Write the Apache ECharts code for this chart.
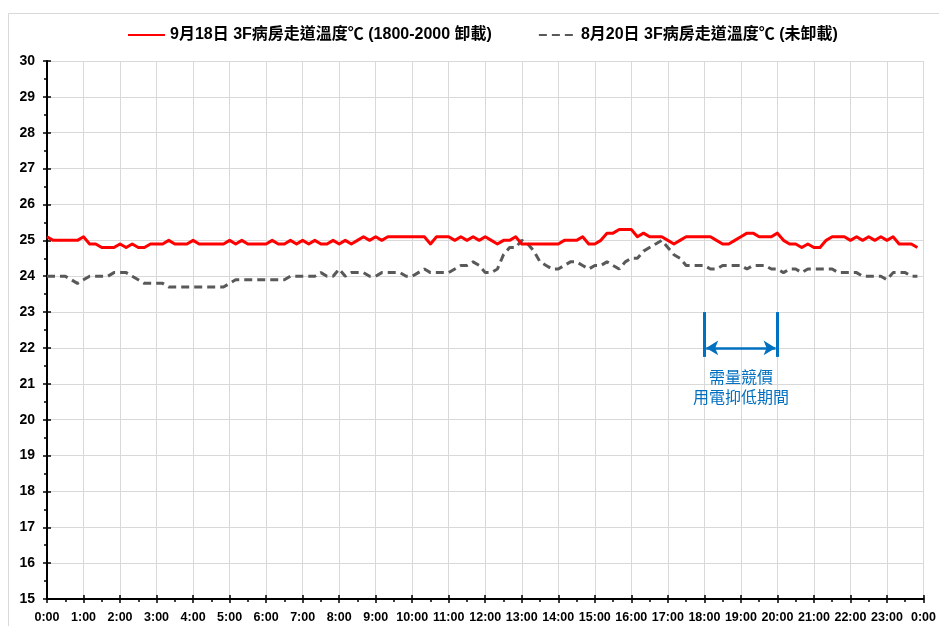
<!DOCTYPE html>
<html>
<head>
<meta charset="utf-8">
<script src="https://cdn.jsdelivr.net/npm/echarts@6/dist/echarts.min.js"></script>
<style>
html, body { margin: 0; padding: 0; background: #fff; }
#chart { width: 939px; height: 626px; }
</style>
</head>
<body>
<div id="chart"></div>
<script>
// Corridor temperature on the 3F ward, logged every 10 minutes from 0:00
const stepMinutes = 10;

// 9/18 — load shed between 18:00 and 20:00
const sep18Temps = [
  25.1, 25.0, 25.0, 25.0, 25.0, 25.0,
  25.1, 24.9, 24.9, 24.8, 24.8, 24.8,
  24.9, 24.8, 24.9, 24.8, 24.8, 24.9,
  24.9, 24.9, 25.0, 24.9, 24.9, 24.9,
  25.0, 24.9, 24.9, 24.9, 24.9, 24.9,
  25.0, 24.9, 25.0, 24.9, 24.9, 24.9,
  24.9, 25.0, 24.9, 24.9, 25.0, 24.9,
  25.0, 24.9, 25.0, 24.9, 24.9, 25.0,
  24.9, 25.0, 24.9, 25.0, 25.1, 25.0,
  25.1, 25.0, 25.1, 25.1, 25.1, 25.1,
  25.1, 25.1, 25.1, 24.9, 25.1, 25.1,
  25.1, 25.0, 25.1, 25.0, 25.1, 25.0,
  25.1, 25.0, 24.9, 25.0, 25.0, 25.1,
  24.9, 24.9, 24.9, 24.9, 24.9, 24.9,
  24.9, 25.0, 25.0, 25.0, 25.1, 24.9,
  24.9, 25.0, 25.2, 25.2, 25.3, 25.3,
  25.3, 25.1, 25.2, 25.1, 25.1, 25.1,
  25.0, 24.9, 25.0, 25.1, 25.1, 25.1,
  25.1, 25.1, 25.0, 24.9, 24.9, 25.0,
  25.1, 25.2, 25.2, 25.1, 25.1, 25.1,
  25.2, 25.0, 24.9, 24.9, 24.8, 24.9,
  24.8, 24.8, 25.0, 25.1, 25.1, 25.1,
  25.0, 25.1, 25.0, 25.1, 25.0, 25.1,
  25.0, 25.1, 24.9, 24.9, 24.9, 24.8
];

// 8/20 — normal operation, no load shed
const aug20Temps = [
  24.0, 24.0, 24.0, 24.0, 23.9, 23.8,
  23.9, 24.0, 24.0, 24.0, 24.0, 24.1,
  24.1, 24.1, 24.0, 23.9, 23.8, 23.8,
  23.8, 23.8, 23.7, 23.7, 23.7, 23.7,
  23.7, 23.7, 23.7, 23.7, 23.7, 23.7,
  23.8, 23.9, 23.9, 23.9, 23.9, 23.9,
  23.9, 23.9, 23.9, 23.9, 24.0, 24.0,
  24.0, 24.0, 24.0, 24.1, 24.0, 24.0,
  24.2, 24.0, 24.1, 24.1, 24.1, 24.0,
  24.0, 24.1, 24.1, 24.1, 24.1, 24.0,
  24.0, 24.1, 24.2, 24.1, 24.1, 24.1,
  24.1, 24.2, 24.3, 24.3, 24.4, 24.3,
  24.1, 24.1, 24.2, 24.6, 24.8, 24.8,
  25.0, 24.9, 24.7, 24.4, 24.3, 24.2,
  24.2, 24.3, 24.4, 24.4, 24.3, 24.2,
  24.3, 24.3, 24.4, 24.3, 24.2, 24.4,
  24.5, 24.5, 24.7, 24.8, 24.9, 25.0,
  24.8, 24.6, 24.5, 24.3, 24.3, 24.3,
  24.3, 24.2, 24.2, 24.3, 24.3, 24.3,
  24.3, 24.2, 24.3, 24.3, 24.3, 24.2,
  24.2, 24.1, 24.2, 24.2, 24.1, 24.2,
  24.2, 24.2, 24.2, 24.2, 24.1, 24.1,
  24.1, 24.1, 24.0, 24.0, 24.0, 24.0,
  23.9, 24.1, 24.1, 24.1, 24.0, 24.0
];

const seriesNames = [
  '9月18日 3F病房走道溫度℃ (1800-2000 卸載)',
  '8月20日 3F病房走道溫度℃ (未卸載)'
];

// Demand-bidding curtailment window (hours) and its caption
const curtailStart = 18;
const curtailEnd = 20;
const curtailNote = '需量競價\n用電抑低期間';

const yMin = 15, yMax = 30;
const xMin = 0, xMax = 24;

const toPoints = arr => arr.map((v, i) => [i * stepMinutes / 60, v]);

const latinFont = '"Liberation Sans", Arial, "Noto Sans CJK TC", sans-serif';
const blue = '#0070c0';

const chart = echarts.init(document.getElementById('chart'), null, { renderer: 'canvas' });

const baseX = {
  type: 'value', min: xMin, max: xMax, interval: 1,
  position: 'bottom'
};
const baseY = {
  type: 'value', min: yMin, max: yMax, interval: 1,
  position: 'left'
};

chart.setOption({
  backgroundColor: '#fff',
  animation: false,
  graphic: [{
    type: 'rect',
    shape: { x: 8.5, y: 13.5, width: 960, height: 700 },
    style: { fill: 'none', stroke: '#d9d9d9', lineWidth: 1 },
    silent: true, z: -1
  }],
  legend: {
    data: seriesNames,
    top: 22,
    left: 122,
    itemWidth: 37,
    itemHeight: 14,
    itemGap: 46,
    itemStyle: { opacity: 0 },
    textStyle: {
      fontFamily: latinFont,
      fontWeight: 'bold',
      fontSize: 16,
      color: '#000'
    }
  },
  grid: { left: 47, right: 14, top: 61, bottom: 27 },
  xAxis: [
    Object.assign({}, baseX, {
      axisLine: { show: true, lineStyle: { color: '#000', width: 2 } },
      axisTick: { show: true, inside: false, length: 4, lineStyle: { color: '#000', width: 1.5 } },
      minorTick: { show: true, splitNumber: 2, length: 3, lineStyle: { color: '#000', width: 1.5 } },
      splitLine: { show: true, lineStyle: { color: '#d9d9d9', width: 1 } },
      axisLabel: {
        margin: 12,
        fontFamily: latinFont, fontWeight: 'bold', fontSize: 12.5, color: '#000',
        formatter: v => (v % 24) + ':00'
      }
    }),
    Object.assign({}, baseX, {
      axisLine: { show: false },
      axisTick: { show: true, inside: true, length: 4, lineStyle: { color: '#000', width: 1.5 } },
      splitLine: { show: false },
      axisLabel: { show: false }
    })
  ],
  yAxis: [
    Object.assign({}, baseY, {
      axisLine: { show: true, lineStyle: { color: '#000', width: 2 } },
      axisTick: { show: true, inside: false, length: 4, lineStyle: { color: '#000', width: 1.5 } },
      minorTick: { show: true, splitNumber: 2, length: 3, lineStyle: { color: '#000', width: 1.5 } },
      splitLine: { show: true, lineStyle: { color: '#d9d9d9', width: 1 } },
      axisLabel: {
        margin: 12,
        fontFamily: latinFont, fontWeight: 'bold', fontSize: 14, color: '#000'
      }
    }),
    Object.assign({}, baseY, {
      offset: 0,
      axisLine: { show: false },
      axisTick: { show: true, inside: true, length: 4, lineStyle: { color: '#000', width: 1.5 } },
      splitLine: { show: false },
      axisLabel: { show: false }
    })
  ],
  series: [
    {
      name: seriesNames[0],
      type: 'line',
      data: toPoints(sep18Temps),
      showSymbol: false,
      symbol: 'none',
      color: '#ff0000',
      lineStyle: { color: '#ff0000', width: 3, join: 'round' },
      z: 4
    },
    {
      name: seriesNames[1],
      type: 'line',
      data: toPoints(aug20Temps),
      showSymbol: false,
      symbol: 'none',
      color: '#595959',
      lineStyle: { color: '#595959', width: 3, type: [8, 5] },
      z: 3
    },
    {
      name: 'curtailment',
      type: 'line',
      data: [],
      silent: true,
      markLine: {
        silent: true,
        symbol: ['none', 'none'],
        label: { show: false },
        lineStyle: { color: blue, width: 3, type: 'solid' },
        data: [
          [{ coord: [curtailStart, 23.0] }, { coord: [curtailStart, 21.75] }],
          [{ coord: [curtailEnd, 23.0] }, { coord: [curtailEnd, 21.75] }],
          [
            { coord: [curtailStart + 0.05, 22.0], symbol: 'arrow', symbolSize: [11, 12], lineStyle: { width: 2.5 } },
            { coord: [curtailEnd - 0.05, 22.0], symbol: 'arrow', symbolSize: [11, 12], lineStyle: { width: 2.5 } }
          ]
        ]
      },
      markPoint: {
        silent: true,
        symbol: 'circle',
        symbolSize: 0,
        data: [{
          coord: [(curtailStart + curtailEnd) / 2, 20.92],
          value: curtailNote
        }],
        label: {
          show: true,
          position: 'inside',
          formatter: curtailNote,
          color: blue,
          fontFamily: '"Noto Sans CJK TC", sans-serif',
          fontSize: 16,
          lineHeight: 20,
          align: 'center'
        }
      }
    }
  ]
});
</script>
</body>
</html>
